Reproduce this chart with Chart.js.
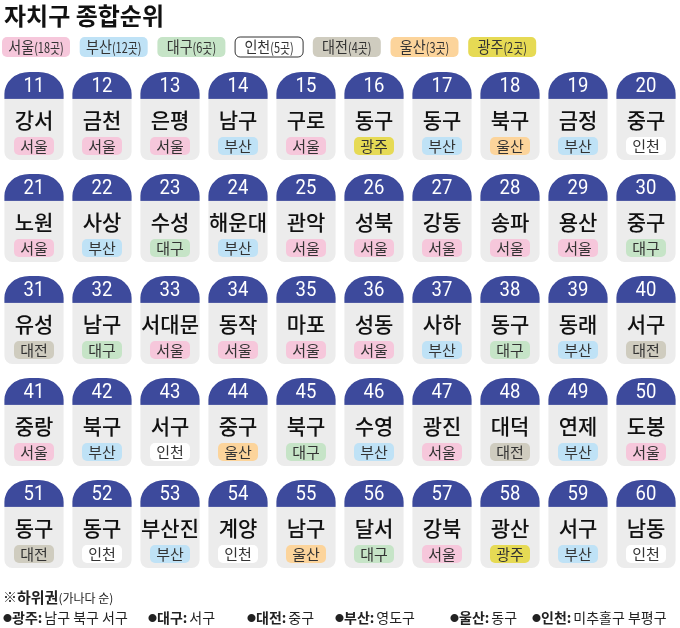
<!DOCTYPE html>
<html><head><meta charset="utf-8">
<script src="https://cdn.jsdelivr.net/npm/chart.js@4/dist/chart.umd.min.js"></script>
<style>html,body{margin:0;padding:0;background:#fff;}#wrap{width:680px;height:628px;position:relative;}</style>
</head><body><div id="wrap"><canvas id="c" width="680" height="628"></canvas></div>
<script>
const title = '자치구 종합순위';
const ranks = [11,12,13,14,15,16,17,18,19,20,21,22,23,24,25,26,27,28,29,30,31,32,33,34,35,36,37,38,39,40,41,42,43,44,45,46,47,48,49,50,51,52,53,54,55,56,57,58,59,60];
const names = ['강서','금천','은평','남구','구로','동구','동구','북구','금정','중구',
 '노원','사상','수성','해운대','관악','성북','강동','송파','용산','중구',
 '유성','남구','서대문','동작','마포','성동','사하','동구','동래','서구',
 '중랑','북구','서구','중구','북구','수영','광진','대덕','연제','도봉',
 '동구','동구','부산진','계양','남구','달서','강북','광산','서구','남동'];
const regions = ['서울','서울','서울','부산','서울','광주','부산','울산','부산','인천',
 '서울','부산','대구','부산','서울','서울','서울','서울','서울','대구',
 '대전','대구','서울','서울','서울','서울','부산','대구','부산','대전',
 '서울','부산','인천','울산','대구','부산','서울','대전','부산','서울',
 '대전','인천','부산','인천','울산','대구','서울','광주','부산','인천'];
const legendRegions = ['서울','부산','대구','인천','대전','울산','광주'];
const legendCounts = [18,12,6,5,4,3,2];
const footNoteBold = '하위권';
const footNoteRest = '(가나다 순)';
const lowerRegions = ['광주','대구','대전','부산','울산','인천'];
const lowerDistricts = ['남구 북구 서구','서구','중구','영도구','동구','미추홀구 부평구'];

const COLS = 10;
const regionColor = {'서울':'#f6c7db','부산':'#bfe2f6','대구':'#c6e4c7','인천':'#ffffff','대전':'#cfccbf','울산':'#fcd49b','광주':'#e6da54'};
const KR = "'Noto Sans CJK KR','Noto Sans',sans-serif";

const points = ranks.map((r,i)=>({x: i%COLS, y: Math.floor(i/COLS)}));

function rr(ctx,x,y,w,h,r){ctx.beginPath();ctx.moveTo(x+r,y);ctx.lineTo(x+w-r,y);ctx.arcTo(x+w,y,x+w,y+r,r);ctx.lineTo(x+w,y+h-r);ctx.arcTo(x+w,y+h,x+w-r,y+h,r);ctx.lineTo(x+r,y+h);ctx.arcTo(x,y+h,x,y+h-r,r);ctx.lineTo(x,y+r);ctx.arcTo(x,y,x+r,y,r);ctx.closePath();}

const tilePlugin = {
  id:'tiles',
  afterDatasetsDraw(chart){
    const ctx = chart.ctx;
    const meta = chart.getDatasetMeta(0);
    const xs = chart.scales.x, ys = chart.scales.y;
    const pitchX = Math.abs(xs.getPixelForValue(1)-xs.getPixelForValue(0));
    const pitchY = Math.abs(ys.getPixelForValue(1)-ys.getPixelForValue(0));
    const w = pitchX*0.87, h = pitchY*0.865;
    meta.data.forEach((el,i)=>{
      const cx = el.x, cy = el.y;
      const x0 = cx-w/2, x1 = cx+w/2, ty = cy-h/2, by = cy+h/2;
      const rx = 25, ry = 22, br = 8;
      ctx.save();
      ctx.beginPath();
      ctx.moveTo(x0, ty+ry);
      ctx.ellipse(x0+rx, ty+ry, rx, ry, 0, Math.PI, 1.5*Math.PI);
      ctx.lineTo(x1-rx, ty);
      ctx.ellipse(x1-rx, ty+ry, rx, ry, 0, 1.5*Math.PI, 2*Math.PI);
      ctx.lineTo(x1, by-br);
      ctx.arcTo(x1, by, x1-br, by, br);
      ctx.lineTo(x0+br, by);
      ctx.arcTo(x0, by, x0, by-br, br);
      ctx.closePath();
      ctx.fillStyle = '#ececec';
      ctx.fill();
      ctx.clip();
      ctx.fillStyle = '#3d4a9c';
      ctx.fillRect(x0-1, ty-1, w+2, 28);
      ctx.restore();
      // rank number
      ctx.save();
      ctx.fillStyle = '#fff';
      ctx.font = "21px Roboto, 'Liberation Sans', sans-serif";
      ctx.textAlign='center'; ctx.textBaseline='middle';
      ctx.translate(cx, ty+14.5);
      ctx.scale(0.88,1);
      ctx.fillText(String(ranks[i]), 0, 0);
      ctx.restore();
      // name
      ctx.fillStyle = '#111';
      ctx.font = "500 21px "+KR;
      ctx.textAlign='center'; ctx.textBaseline='middle';
      ctx.fillText(names[i], cx, cy+4);
      // badge
      const reg = regions[i];
      rr(ctx, cx-20, cy+21, 40, 18, 5);
      ctx.fillStyle = regionColor[reg];
      ctx.fill();
      ctx.fillStyle = '#333';
      ctx.font = "15px "+KR;
      ctx.fillText(reg, cx, cy+30.5);
    });
  },
  afterDraw(chart){
    const ctx = chart.ctx;
    ctx.save();
    // title
    ctx.fillStyle='#111';
    ctx.textAlign='left'; ctx.textBaseline='alphabetic';
    ctx.font = "bold 24px "+KR;
    ctx.fillText(title, 4, 25);
    // legend
    const bw = 68, pitch = 77.7;
    legendRegions.forEach((reg,i)=>{
      const x = 2 + i*pitch;
      const t2 = '('+legendCounts[i]+'곳)';
      ctx.font = "16px "+KR;
      const w1 = ctx.measureText(reg).width*0.88;
      ctx.font = "14px "+KR;
      const w2 = ctx.measureText(t2).width*0.78;
      rr(ctx, x, 37, bw, 20, 5);
      ctx.fillStyle = regionColor[reg]; ctx.fill();
      if(reg==='인천'){ctx.strokeStyle='#333';ctx.lineWidth=1;ctx.stroke();}
      ctx.fillStyle='#333'; ctx.textBaseline='middle'; ctx.textAlign='left';
      const sx = x + (bw - w1 - w2)/2;
      ctx.save(); ctx.translate(sx, 47); ctx.scale(0.88,1);
      ctx.font = "16px "+KR; ctx.fillText(reg, 0, 0); ctx.restore();
      ctx.save(); ctx.translate(sx+w1, 47.5); ctx.scale(0.78,1);
      ctx.font = "14px "+KR; ctx.fillText(t2, 0, 0); ctx.restore();
    });
    // footnote
    ctx.fillStyle='#222'; ctx.textBaseline='middle'; ctx.textAlign='left';
    let fx = 3;
    ctx.font = "14px "+KR; ctx.fillText('※', fx, 597); fx += ctx.measureText('※').width;
    ctx.font = "bold 15px "+KR; ctx.fillText(footNoteBold, fx, 597); fx += ctx.measureText(footNoteBold).width;
    ctx.font = "12px "+KR; ctx.fillText(footNoteRest, fx, 598);
    const starts = [3,148,247,335,450,532];
    lowerRegions.forEach((reg,i)=>{
      let sx = starts[i];
      ctx.font = "9px "+KR;
      ctx.fillText('●', sx, 618); sx += ctx.measureText('●').width;
      ctx.font = "bold 14px "+KR;
      const lab = reg+':';
      ctx.fillText(lab, sx, 618); sx += ctx.measureText(lab).width + 2;
      ctx.font = "14px "+KR;
      ctx.fillText(lowerDistricts[i], sx, 618);
    });
    ctx.restore();
  }
};

new Chart(document.getElementById('c'), {
  type:'scatter',
  data:{datasets:[{data:points, pointRadius:0, pointHoverRadius:0}]},
  options:{
    responsive:false, animation:false, events:[],
    layout:{padding:{top:65,bottom:53,left:0,right:0}},
    plugins:{legend:{display:false}, tooltip:{enabled:false}},
    scales:{
      x:{type:'linear', min:-0.5, max:9.5, display:false},
      y:{type:'linear', min:-0.5, max:4.5, reverse:true, display:false}
    }
  },
  plugins:[tilePlugin]
});
</script></body></html>
